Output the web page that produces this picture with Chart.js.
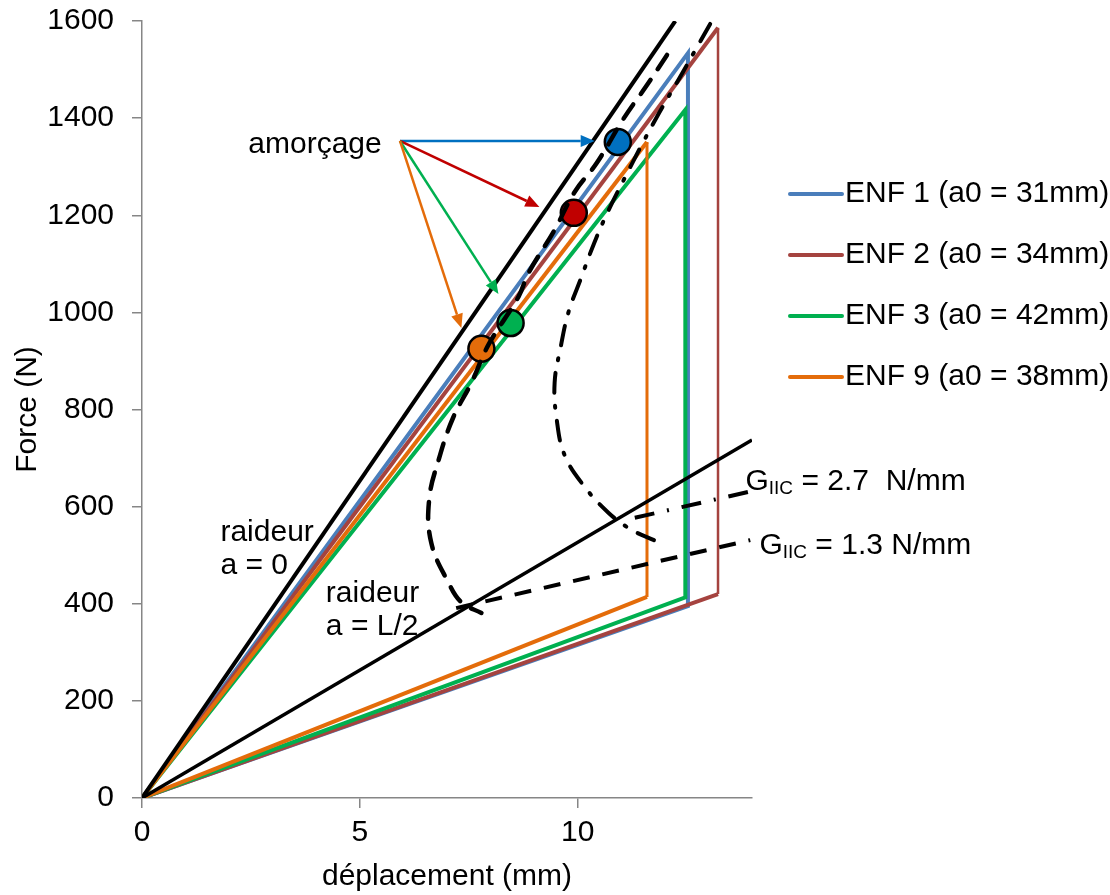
<!DOCTYPE html>
<html>
<head>
<meta charset="utf-8">
<script src="https://cdn.jsdelivr.net/npm/chart.js@4.4.1/dist/chart.umd.min.js"></script>
<style>
  html, body { margin: 0; padding: 0; background: #fff; }
</style>
</head>
<body>
<canvas id="chart" width="1110" height="895"></canvas>
<script>
// ENF test curves: load up, drop at crack propagation, back to origin
const enfNames = ["ENF 1 (a0 = 31mm)", "ENF 2 (a0 = 34mm)", "ENF 3 (a0 = 42mm)", "ENF 9 (a0 = 38mm)"];
const enfColors = ["#4A7EBB", "#A5433F", "#00B050", "#E46C0A"];
const enf1X = [0, 12.53, 12.53, 0];
const enf1Y = [0, 1534, 395, 0];
const enf2X = [0, 13.22, 13.22, 0];
const enf2Y = [0, 1586, 420, 0];
const enf3X = [0, 12.47, 12.47, 0];
const enf3Y = [0, 1417, 413, 0];
const enf9X = [0, 11.59, 11.59, 0];
const enf9Y = [0, 1351, 414, 0];

// crack initiation points (amorçage)
const initColors = ["#0070C0", "#C00000", "#00B050", "#E46C0A"];
const initX = [10.92, 9.91, 8.46, 7.79];
const initY = [1351, 1205, 978, 925];
const arrowFrom = [5.92, 1353];
const arrowToX = [10.39, 9.12, 8.18, 7.33];
const arrowToY = [1353, 1217, 1038, 968];

// stiffness lines
const rigid0X = [0, 12.24];
const rigid0Y = [0, 1600];
const rigidHalfX = [0, 14];
const rigidHalfY = [0, 737];

// constant GIIC propagation curves
const g13X = [12.05, 11.59, 11.06, 10.44, 9.93, 9.47, 8.87, 8.64, 7.95, 7.56, 7.14, 6.82, 6.59, 6.64, 7.03, 7.33, 7.79];
const g13Y = [1530, 1468, 1400, 1308, 1248, 1170, 1081, 1032, 933, 855, 783, 700, 614, 525, 444, 403, 381];
const g27X = [13.04, 12.70, 12.28, 11.87, 11.47, 11.08, 10.69, 10.37, 10.07, 9.79, 9.61, 9.47, 9.52, 9.70, 10.14, 10.71, 11.24, 11.75];
const g27Y = [1594, 1540, 1474, 1411, 1345, 1277, 1207, 1141, 1069, 1001, 929, 855, 778, 706, 643, 587, 552, 531];
const g13LeaderX = [7.21, 13.96];
const g13LeaderY = [391, 531];
const g27LeaderX = [11.31, 14];
const g27LeaderY = [577, 632];

const FONT = "'Liberation Sans', Arial, sans-serif";
const FS = 30;

function pts(xs, ys) {
  return xs.map((x, i) => ({ x: x, y: ys[i] }));
}

function lineSet(xs, ys, color, width, extra) {
  return Object.assign({
    type: "line",
    data: pts(xs, ys),
    borderColor: color,
    borderWidth: width,
    pointRadius: 0,
    tension: 0,
    fill: false,
    borderJoinStyle: "miter"
  }, extra || {});
}

// Chart.js paints the first dataset last, so this list goes from top to bottom
const datasets = [];
datasets.push(lineSet(g13X, g13Y, "#000", 4.5, { tension: 0.4, borderDash: [17, 13], borderCapStyle: "round" }));
datasets.push(lineSet(g27X, g27Y, "#000", 4, { tension: 0.4, borderDash: [20, 13, 2, 13], borderCapStyle: "round" }));
datasets.push(lineSet(g13LeaderX, g13LeaderY, "#000", 4, { borderDash: [17, 13] }));
datasets.push(lineSet(g27LeaderX, g27LeaderY, "#000", 4, { borderDash: [20, 13, 2, 13] }));
initX.forEach((x, i) => {
  datasets.push({
    type: "scatter",
    data: [{ x: x, y: initY[i] }],
    pointRadius: 13,
    pointHoverRadius: 13,
    pointBackgroundColor: initColors[i],
    pointBorderColor: "#000",
    pointBorderWidth: 2.5
  });
});
datasets.push(lineSet(rigid0X, rigid0Y, "#000", 4));
datasets.push(lineSet(rigidHalfX, rigidHalfY, "#000", 3.5));

const enfX = [enf1X, enf2X, enf3X, enf9X];
const enfY = [enf1Y, enf2Y, enf3Y, enf9Y];
const dropWidth = [4, 2.5, 4, 3];
[3, 2, 1, 0].forEach(i => {
  datasets.push(lineSet(enfX[i], enfY[i], enfColors[i], 4, {
    label: enfNames[i],
    segment: { borderWidth: ctx => (ctx.p0DataIndex === 1 ? dropWidth[i] : 4) }
  }));
});

function arrow(ctx, x1, y1, x2, y2, color) {
  const a = Math.atan2(y2 - y1, x2 - x1);
  const len = 14, half = 6;
  ctx.strokeStyle = color;
  ctx.fillStyle = color;
  ctx.lineWidth = 2.5;
  ctx.beginPath();
  ctx.moveTo(x1, y1);
  ctx.lineTo(x2 - len * Math.cos(a), y2 - len * Math.sin(a));
  ctx.stroke();
  ctx.beginPath();
  ctx.moveTo(x2, y2);
  ctx.lineTo(x2 - len * Math.cos(a) + half * Math.sin(a), y2 - len * Math.sin(a) - half * Math.cos(a));
  ctx.lineTo(x2 - len * Math.cos(a) - half * Math.sin(a), y2 - len * Math.sin(a) + half * Math.cos(a));
  ctx.closePath();
  ctx.fill();
}

function gLabel(ctx, px, py, value) {
  ctx.textBaseline = "middle";
  ctx.textAlign = "left";
  ctx.font = FS + "px " + FONT;
  ctx.fillText("G", px, py);
  let w = ctx.measureText("G").width;
  ctx.font = "19px " + FONT;
  ctx.fillText("IIC", px + w, py + 7);
  w += ctx.measureText("IIC").width;
  ctx.font = FS + "px " + FONT;
  ctx.fillText(value, px + w, py);
}

const annotations = {
  id: "annotations",
  afterDraw(chart) {
    const { ctx, scales } = chart;
    const sx = scales.x, sy = scales.y;
    ctx.save();
    const ox = sx.getPixelForValue(arrowFrom[0]);
    const oy = sy.getPixelForValue(arrowFrom[1]);
    arrowToX.forEach((x, i) => {
      arrow(ctx, ox, oy, sx.getPixelForValue(x), sy.getPixelForValue(arrowToY[i]), initColors[i]);
    });

    ctx.fillStyle = "#000";
    ctx.font = FS + "px " + FONT;
    ctx.textAlign = "left";
    ctx.textBaseline = "middle";
    ctx.fillText("amorçage", sx.getPixelForValue(2.44), sy.getPixelForValue(1345));
    ctx.fillText("raideur", sx.getPixelForValue(1.8), sy.getPixelForValue(546));
    ctx.fillText("a = 0", sx.getPixelForValue(1.8), sy.getPixelForValue(478));
    ctx.fillText("raideur", sx.getPixelForValue(4.22), sy.getPixelForValue(420));
    ctx.fillText("a = L/2", sx.getPixelForValue(4.22), sy.getPixelForValue(352));
    gLabel(ctx, sx.getPixelForValue(13.85), sy.getPixelForValue(651), " = 2.7  N/mm");
    gLabel(ctx, sx.getPixelForValue(14.17), sy.getPixelForValue(519), " = 1.3 N/mm");

    // legend
    const lx = sx.right + 38;
    enfNames.forEach((name, i) => {
      const ly = 194 + i * 61;
      ctx.strokeStyle = enfColors[i];
      ctx.lineWidth = 4;
      ctx.lineCap = "round";
      ctx.beginPath();
      ctx.moveTo(lx, ly);
      ctx.lineTo(lx + 52, ly);
      ctx.stroke();
      ctx.fillStyle = "#000";
      ctx.font = FS + "px " + FONT;
      ctx.fillText(name, lx + 55, ly);
    });
    ctx.restore();
  }
};

new Chart(document.getElementById("chart"), {
  type: "line",
  data: { datasets: datasets },
  plugins: [annotations],
  options: {
    responsive: false,
    animation: false,
    devicePixelRatio: 1,
    layout: { padding: { top: 21, right: 358, bottom: 0, left: 0 } },
    plugins: { legend: { display: false }, tooltip: { enabled: false } },
    scales: {
      x: {
        type: "linear",
        min: 0,
        max: 14,
        ticks: { stepSize: 5, includeBounds: false, color: "#000", padding: 7, font: { family: FONT, size: FS } },
        grid: { drawOnChartArea: false, tickLength: 10, color: "#868686", lineWidth: 1.5 },
        border: { color: "#868686", width: 1.5 },
        title: { display: true, text: "déplacement (mm)", color: "#000", padding: 0, font: { family: FONT, size: FS } },
        afterFit(scale) { scale.height = 97; }
      },
      y: {
        min: 0,
        max: 1600,
        ticks: { stepSize: 200, color: "#000", padding: 18, font: { family: FONT, size: FS }, callback: v => String(v) },
        grid: { drawOnChartArea: false, tickLength: 10, color: "#868686", lineWidth: 1.5 },
        border: { color: "#868686", width: 1.5 },
        title: { display: true, text: "Force (N)", color: "#000", padding: { top: 10 }, font: { family: FONT, size: FS } },
        afterFit(scale) {
          scale.width = 142;
          scale.paddingTop = 0;
          scale.paddingBottom = 0;
        }
      }
    }
  }
});
</script>
</body>
</html>
